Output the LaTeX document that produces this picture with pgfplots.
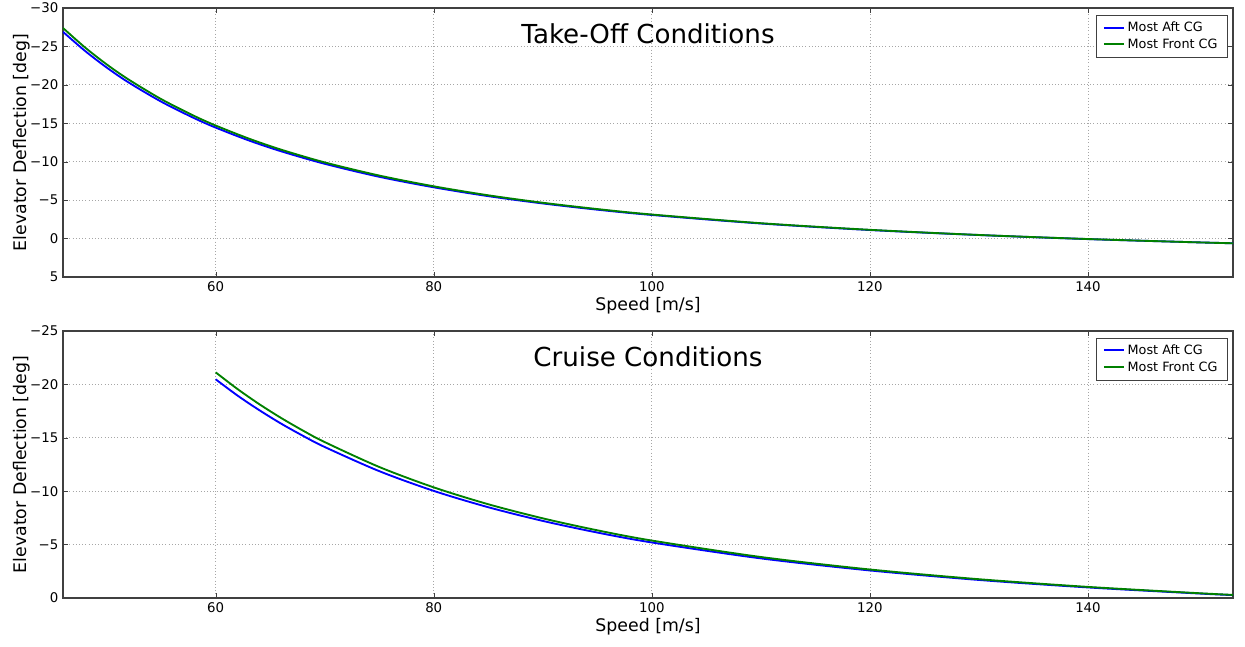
\documentclass[border=0pt]{standalone}
\usepackage{fontspec}
\setmainfont{DejaVu Sans}
\usepackage{pgfplots}
\pgfplotsset{compat=1.18}
\definecolor{mplgreen}{rgb}{0,0.5,0}
\pgfplotsset{
  myax/.style={
    scale only axis,
    width=877.5pt,
    xmin=46, xmax=153.3,
    y dir=reverse,
    xtick={60,80,100,120,140},
    grid=major,
    major grid style={gray!70, dotted, line width=0.6pt},
    tick pos=both,
    tick align=inside,
    major tick length=4pt,
    axis line style={black!75, line width=0.8pt},
    tick style={black!75},
    tick label style={font=\fontsize{10}{12}\selectfont},
    xlabel={Speed [m/s]},
    ylabel={Elevator Deflection [deg]},
    every axis x label/.style={at={(0.5,0)}, anchor=north, yshift=-11.5pt, font=\fontsize{13}{15.5}\selectfont},
    every axis y label/.style={at={(-0.024,0.5)}, rotate=90, anchor=south, font=\fontsize{13}{15.5}\selectfont},
    /pgf/number format/assume math mode=true,
    legend style={at={(0.995,0.975)}, anchor=north east, font=\fontsize{9.6}{11.5}\selectfont,
      draw=black!75, inner xsep=5pt, inner ysep=3pt, row sep=0pt, cells={anchor=west}},
    legend cell align=left,
    legend image code/.code={\draw[#1, line width=1.5pt] (0cm,0cm) -- (0.53cm,0cm);},
    title style={at={(0.5,0.875)}, anchor=center, font=\fontsize{19.6}{23}\selectfont},
    every axis plot/.append style={line width=1.4pt, smooth},
  }
}
\begin{document}
\begin{tikzpicture}
\useasboundingbox (-47.25pt,6pt) rectangle (886.5pt,-478.5pt);
\begin{axis}[myax, at={(0,0)}, anchor=north west, height=201.75pt,
  ymin=-30, ymax=5,
  ytick={-30,-25,-20,-15,-10,-5,0,5},
  yticklabels={−30,−25,−20,−15,−10,−5,0,5},
  title={Take-Off Conditions}]
\addplot[blue] coordinates {
(46,-26.90) (48,-24.44) (50,-22.26) (52,-20.33) (55,-17.82) (58,-15.69)
(60,-14.44) (63,-12.79) (66,-11.36) (70,-9.73) (75,-8.04) (80,-6.67)
(85,-5.52) (90,-4.57) (95,-3.76) (100,-3.07) (110,-1.96) (120,-1.11)
(130,-0.46) (140,0.07) (150,0.49) (153.3,0.61)};
\addlegendentry{Most Aft CG}
\addplot[mplgreen] coordinates {
(46,-27.40) (48,-24.89) (50,-22.67) (52,-20.71) (55,-18.15) (58,-15.98)
(60,-14.71) (63,-13.03) (66,-11.57) (70,-9.91) (75,-8.20) (80,-6.80)
(85,-5.63) (90,-4.66) (95,-3.84) (100,-3.13) (110,-2.00) (120,-1.14)
(130,-0.47) (140,0.06) (150,0.49) (153.3,0.61)};
\addlegendentry{Most Front CG}
\end{axis}
\begin{axis}[myax, at={(0,-242.25pt)}, anchor=north west, height=200.25pt,
  ymin=-25, ymax=0,
  ytick={-25,-20,-15,-10,-5,0},
  yticklabels={−25,−20,−15,−10,−5,0},
  title={Cruise Conditions}]
\addplot[blue] coordinates {
(60,-20.48) (62,-18.96) (64,-17.59) (66,-16.33) (68,-15.19) (70,-14.14)
(75,-11.88) (80,-10.03) (85,-8.50) (90,-7.22) (95,-6.13) (100,-5.20)
(110,-3.71) (120,-2.58) (130,-1.69) (140,-0.99) (150,-0.43) (153.3,-0.27)};
\addlegendentry{Most Aft CG}
\addplot[mplgreen] coordinates {
(60,-21.13) (62,-19.57) (64,-18.15) (66,-16.86) (68,-15.68) (70,-14.60)
(75,-12.27) (80,-10.36) (85,-8.78) (90,-7.46) (95,-6.34) (100,-5.38)
(110,-3.84) (120,-2.67) (130,-1.76) (140,-1.04) (150,-0.46) (153.3,-0.29)};
\addlegendentry{Most Front CG}
\end{axis}
\end{tikzpicture}
\end{document}
